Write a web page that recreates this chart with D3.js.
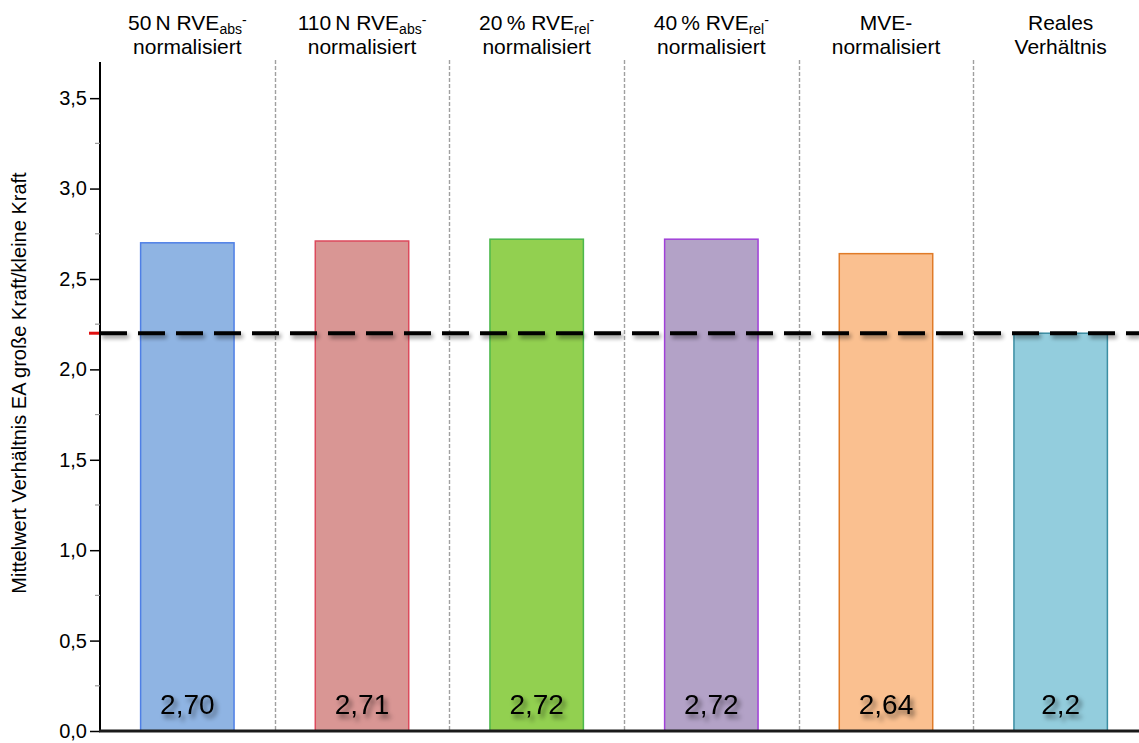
<!DOCTYPE html>
<html>
<head>
<meta charset="utf-8">
<script src="https://cdn.jsdelivr.net/npm/d3@7"></script>
<style>
  html, body { margin: 0; padding: 0; background: #fff; }
  svg { display: block; font-family: "Liberation Sans", Arial, sans-serif; }
</style>
</head>
<body>
<svg id="chart" width="1139" height="743"></svg>
<script>
// Category header lines (second element of line 1 is a subscript)
const headerLine1 = [
  ["50\u2009N RVE", "abs", "-"],
  ["110\u2009N RVE", "abs", "-"],
  ["20\u2009% RVE", "rel", "-"],
  ["40\u2009% RVE", "rel", "-"],
  ["MVE-", "", ""],
  ["Reales", "", ""]
];
const headerLine2 = ["normalisiert", "normalisiert", "normalisiert", "normalisiert", "normalisiert", "Verhältnis"];
const categories = ["50N", "110N", "20%", "40%", "MVE", "Real"];
const values = [2.70, 2.71, 2.72, 2.72, 2.64, 2.2];
const valueLabels = ["2,70", "2,71", "2,72", "2,72", "2,64", "2,2"];
const fillColors = ["#8fb4e3", "#d99694", "#92d050", "#b3a2c7", "#fac090", "#93cddd"];
const strokeColors = ["#4f7fe6", "#dc4a5c", "#4cb84c", "#a040d8", "#e07b28", "#3c8ea3"];
const yTicks = [0, 0.5, 1.0, 1.5, 2.0, 2.5, 3.0, 3.5];
const yMinorTicks = [0.25, 0.75, 1.25, 1.75, 2.25, 2.75, 3.25];
const referenceValue = 2.2;
const yAxisTitle = "Mittelwert Verhältnis EA große Kraft/kleine Kraft";

const svg = d3.select("#chart");
const plotLeft = 100, plotRight = 1148, plotTop = 62, plotBottom = 731;

const x = d3.scaleBand().domain(categories).range([plotLeft, plotRight]).paddingInner(0).paddingOuter(0);
const y = d3.scaleLinear().domain([0, 3.7]).range([plotBottom, plotTop]);
const barW = x.bandwidth() * 0.535;

const defs = svg.append("defs");
const sh = defs.append("filter").attr("id", "txtShadow").attr("x", "-20%").attr("y", "-30%").attr("width", "150%").attr("height", "170%");
sh.append("feGaussianBlur").attr("in", "SourceAlpha").attr("stdDeviation", 2.5).attr("result", "b");
sh.append("feOffset").attr("in", "b").attr("dx", 3).attr("dy", 4).attr("result", "o");
sh.append("feComponentTransfer").attr("in", "o").attr("result", "oa")
  .append("feFuncA").attr("type", "linear").attr("slope", 0.55);
const m1 = sh.append("feMerge");
m1.append("feMergeNode").attr("in", "oa");
m1.append("feMergeNode").attr("in", "SourceGraphic");

const lsh = defs.append("filter").attr("id", "lineShadow")
  .attr("filterUnits", "userSpaceOnUse")
  .attr("x", 0).attr("y", 300).attr("width", 1139).attr("height", 70);
lsh.append("feGaussianBlur").attr("in", "SourceAlpha").attr("stdDeviation", 2).attr("result", "b");
lsh.append("feOffset").attr("in", "b").attr("dx", 2).attr("dy", 3).attr("result", "o");
lsh.append("feComponentTransfer").attr("in", "o").attr("result", "oa")
  .append("feFuncA").attr("type", "linear").attr("slope", 0.45);
const m2 = lsh.append("feMerge");
m2.append("feMergeNode").attr("in", "oa");
m2.append("feMergeNode").attr("in", "SourceGraphic");

// Column separators
svg.append("g").selectAll("line")
  .data(categories.slice(1))
  .join("line")
  .attr("x1", d => Math.round(x(d)) + 0.5).attr("x2", d => Math.round(x(d)) + 0.5)
  .attr("y1", plotTop - 2).attr("y2", plotBottom)
  .attr("stroke", "#a0a0a0").attr("stroke-width", 1.4).attr("stroke-dasharray", "4,2");

// Bars
svg.append("g").selectAll("rect")
  .data(values)
  .join("rect")
  .attr("x", (d, i) => x(categories[i]) + (x.bandwidth() - barW) / 2)
  .attr("width", barW)
  .attr("y", d => y(d))
  .attr("height", d => y(0) - y(d))
  .attr("fill", (d, i) => fillColors[i])
  .attr("stroke", (d, i) => strokeColors[i])
  .attr("stroke-width", 1.5);

// Reference line
svg.append("line")
  .attr("x1", 89).attr("x2", plotLeft)
  .attr("y1", y(referenceValue)).attr("y2", y(referenceValue))
  .attr("stroke", "#e01010").attr("stroke-width", 3);
svg.append("line")
  .attr("x1", plotLeft).attr("x2", 1139)
  .attr("y1", y(referenceValue)).attr("y2", y(referenceValue))
  .attr("stroke", "#000").attr("stroke-width", 4)
  .attr("stroke-dasharray", "27,11")
  .attr("filter", "url(#lineShadow)");

// Y axis
const yAxis = d3.axisLeft(y).tickValues(yTicks).tickSize(10).tickPadding(3)
  .tickFormat(d => d3.format(".1f")(d).replace(".", ","));
const gy = svg.append("g").attr("transform", `translate(${plotLeft},0)`).call(yAxis);
gy.select(".domain").attr("stroke", "#000").attr("stroke-width", 2)
  .attr("d", `M0,${plotTop}V${plotBottom + 1}`);
gy.selectAll(".tick line").attr("stroke", "#000").attr("stroke-width", 1.5);
gy.selectAll(".tick text").attr("font-size", 20).attr("fill", "#000")
  .attr("font-family", "'Liberation Sans', Arial, sans-serif");

svg.append("g").selectAll("line")
  .data(yMinorTicks)
  .join("line")
  .attr("x1", plotLeft - 5).attr("x2", plotLeft)
  .attr("y1", d => y(d)).attr("y2", d => y(d))
  .attr("stroke", "#9a9a9a").attr("stroke-width", 1.2);

// X axis baseline
svg.append("line")
  .attr("x1", plotLeft - 1).attr("x2", 1139)
  .attr("y1", plotBottom).attr("y2", plotBottom)
  .attr("stroke", "#1a1a1a").attr("stroke-width", 3);

// Y axis title
svg.append("text")
  .attr("transform", `translate(26,383) rotate(-90)`)
  .attr("text-anchor", "middle")
  .attr("font-size", 20)
  .attr("fill", "#000")
  .text(yAxisTitle);

// Category headers
const hdr = svg.append("g").attr("font-size", 21).attr("fill", "#000").attr("text-anchor", "middle");
headerLine1.forEach((parts, i) => {
  const cx = x(categories[i]) + x.bandwidth() / 2;
  const t = hdr.append("text").attr("x", cx).attr("y", 30);
  t.append("tspan").text(parts[0]);
  if (parts[1]) {
    t.append("tspan").attr("font-size", 14).attr("dy", 4).text(parts[1]);
    t.append("tspan").attr("font-size", 14).attr("dy", -9).text(parts[2]);
  }
  hdr.append("text").attr("x", cx).attr("y", 54).text(headerLine2[i]);
});

// Value labels
svg.append("g").selectAll("text")
  .data(valueLabels)
  .join("text")
  .attr("x", (d, i) => x(categories[i]) + x.bandwidth() / 2)
  .attr("y", 714)
  .attr("text-anchor", "middle")
  .attr("font-size", 28)
  .attr("fill", "#000")
  .attr("filter", "url(#txtShadow)")
  .text(d => d);
</script>
</body>
</html>
